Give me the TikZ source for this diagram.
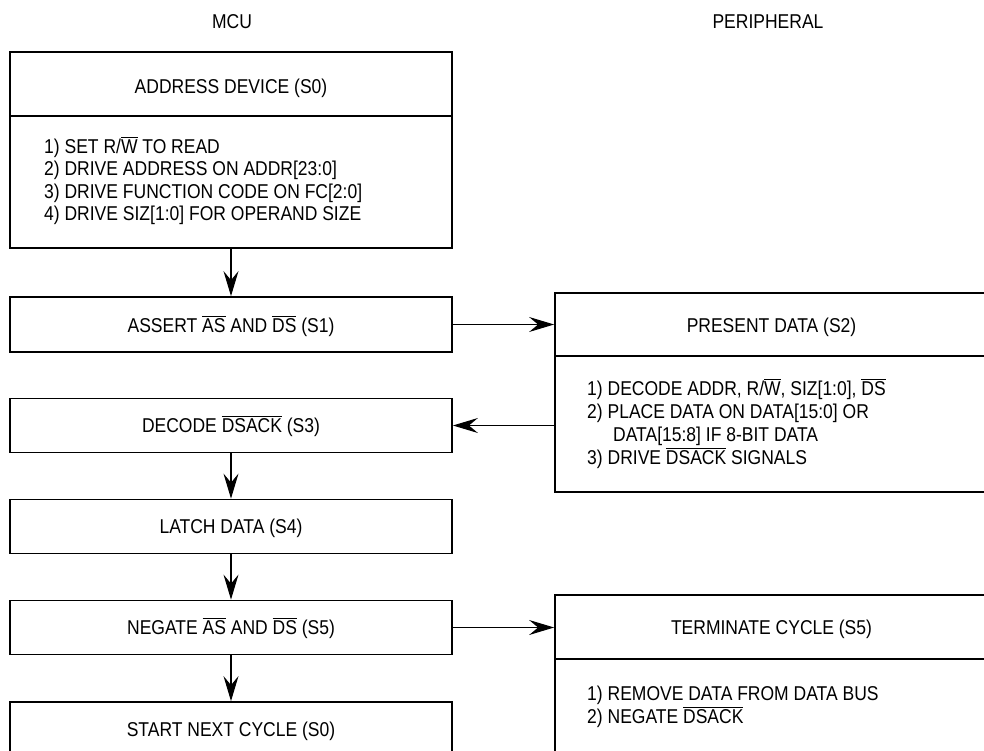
\documentclass[tikz,border=0pt]{standalone}
\usepackage{fontspec}
\setmainfont{Liberation Sans}[FakeStretch=0.875]
\usetikzlibrary{arrows.meta}
\newcommand\ovl[1]{\leavevmode\vbox{\hrule height 0.9pt\kern1.6pt\hbox{#1}}}
\begin{document}
\begin{tikzpicture}[x=1pt,y=-1pt,
  box/.style={draw, line width=1.8pt, inner sep=0pt},
  txt/.style={font=\fontsize{20}{23}\selectfont, inner sep=0pt, anchor=base},
  item/.style={txt, anchor=base west},
  arr/.style={line width=1.1pt, -{Stealth[length=25pt,width=15pt,inset=9pt]}},
  divline/.style={line width=1.2pt}]
\useasboundingbox (0,0) rectangle (984,751);

% column labels
\node[txt] (mcu) at (232,28.2) {MCU};
\node[txt] (per) at (768,28.2) {PERIPHERAL};

% S0 box
\node[box, minimum width=442pt, minimum height=196pt] (s0) at (231,150) {};
\node[txt] (s0t) at (231,93.2) {ADDRESS DEVICE (S0)};
\draw[divline] (s0.west |- 0,116) -- (s0.east |- 0,116);
\node[item] (s0a) at (44,153.2) {1) SET R/\ovl{W} TO READ};
\node[item] (s0b) at (44,175.7) {2) DRIVE ADDRESS ON ADDR[23:0]};
\node[item] (s0c) at (44,198.2) {3) DRIVE FUNCTION CODE ON FC[2:0]};
\node[item] (s0d) at (44,220.7) {4) DRIVE SIZ[1:0] FOR OPERAND SIZE};

% S1
\node[box, minimum width=442pt, minimum height=55pt] (s1) at (231,324.5) {};
\node[txt] (s1t) at (231,332.2) {ASSERT \ovl{AS} AND \ovl{DS} (S1)};

% S2
\node[box, minimum width=433pt, minimum height=199pt] (s2) at (771.5,392.5) {};
\node[txt] (s2t) at (771.5,332.2) {PRESENT DATA (S2)};
\draw[divline] (s2.west |- 0,356) -- (s2.east |- 0,356);
\node[item] (s2a) at (587,395.2) {1) DECODE ADDR, R/\ovl{W}, SIZ[1:0], \ovl{DS}};
\node[item] (s2b) at (587,418.2) {2) PLACE DATA ON DATA[15:0] OR};
\node[item] (s2c) at (613,441.2) {DATA[15:8] IF 8-BIT DATA};
\node[item] (s2d) at (587,464.2) {3) DRIVE \ovl{DSACK} SIGNALS};

% S3
\node[box, minimum width=442pt, minimum height=54pt] (s3) at (231,425.5) {};
\node[txt] (s3t) at (231,432.7) {DECODE \ovl{DSACK} (S3)};

% S4
\node[box, minimum width=442pt, minimum height=54pt] (s4) at (231,526.5) {};
\node[txt] (s4t) at (231,533.7) {LATCH DATA (S4)};

% S5
\node[box, minimum width=442pt, minimum height=54pt] (s5) at (231,627.5) {};
\node[txt] (s5t) at (231,634.7) {NEGATE \ovl{AS} AND \ovl{DS} (S5)};

% S6
\node[box, minimum width=442pt, minimum height=55pt] (s6) at (231,729.5) {};
\node[txt] (s6t) at (231,736.7) {START NEXT CYCLE (S0)};

% Terminate
\node[box, minimum width=433pt, minimum height=205pt] (term) at (771.5,697.5) {};
\node[txt] (termt) at (771.5,634.7) {TERMINATE CYCLE (S5)};
\draw[divline] (term.west |- 0,659) -- (term.east |- 0,659);
\node[item] (terma) at (587,700.2) {1) REMOVE DATA FROM DATA BUS};
\node[item] (termb) at (587,723.2) {2) NEGATE \ovl{DSACK}};

% connectors
\draw[arr] (s0.south) -- (s1.north);
\draw[arr] (s1.east) -- (s1.east -| s2.west);
\draw[arr] (s3.east -| s2.west) -- (s3.east);
\draw[arr] (s3.south) -- (s4.north);
\draw[arr] (s4.south) -- (s5.north);
\draw[arr] (s5.east) -- (s5.east -| term.west);
\draw[arr] (s5.south) -- (s6.north);
\end{tikzpicture}
\end{document}
